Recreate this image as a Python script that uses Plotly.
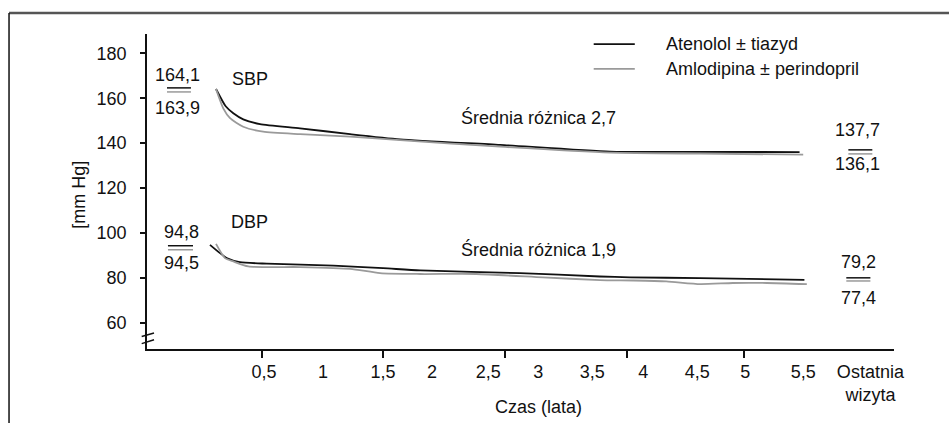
import plotly.graph_objects as go

# ---- data ----
sbp_ate_x = [0.12, 0.20, 0.263, 0.345, 0.483, 0.814, 1.227, 1.64, 2.467, 3.376, 4.12, 4.94]
sbp_ate_y = [164.1, 156.4, 153.3, 150.6, 148.5, 146.6, 144.0, 141.7, 139.2, 136.2, 136.1, 136.0]
sbp_aml_x = [0.12, 0.18, 0.236, 0.345, 0.51, 0.814, 1.227, 1.64, 2.467, 3.376, 4.12, 4.97]
sbp_aml_y = [164.1, 155.5, 151.1, 147.3, 145.1, 144.0, 142.9, 141.3, 138.4, 135.8, 135.3, 134.9]

dbp_ate_x = [0.07, 0.153, 0.208, 0.317, 0.539, 1.09, 1.5, 1.806, 2.63, 3.29, 3.54, 4.12, 4.98]
dbp_ate_y = [94.7, 91.0, 88.8, 87.0, 86.3, 85.4, 84.3, 83.3, 82.1, 80.6, 80.2, 79.9, 79.1]
dbp_aml_x = [0.12, 0.194, 0.263, 0.387, 0.814, 1.227, 1.475, 1.806, 2.27, 2.82, 3.29, 3.57, 3.84, 4.12, 4.39, 4.67, 5.0]
dbp_aml_y = [95.1, 88.8, 87.3, 85.1, 84.8, 84.0, 82.1, 81.7, 81.7, 80.2, 79.0, 78.8, 78.4, 77.2, 77.7, 77.7, 77.2]

series_names = ["Atenolol ± tiazyd", "Amlodipina ± perindopril"]

# x-axis tick marks and label positions (as printed in the original)
tick_marks = [0.5, 1.5, 2.508, 3.517, 4.483]
label_pos = [0.517, 1.004, 1.5, 1.905, 2.368, 2.781, 3.227, 3.649, 4.095, 4.492, 4.971, 5.525]
label_txt = ["0,5", "1", "1,5", "2", "2,5", "3", "3,5", "4", "4,5", "5", "5,5", "Ostatnia<br>wizyta"]
y_ticks = [60, 80, 100, 120, 140, 160, 180]

# baseline / final values shown as fractions
base_sbp = ("164,1", "163,9")
base_dbp = ("94,8", "94,5")
last_sbp = ("137,7", "136,1")
last_dbp = ("79,2", "77,4")

BLACK = "#111111"
GRAY = "#9a9a9a"
FONT = "Liberation Sans, Arial, sans-serif"
FS = 18

fig = go.Figure()
for xs, ys, col in [(sbp_ate_x, sbp_ate_y, BLACK), (sbp_aml_x, sbp_aml_y, GRAY),
                    (dbp_ate_x, dbp_ate_y, BLACK), (dbp_aml_x, dbp_aml_y, GRAY)]:
    fig.add_trace(go.Scatter(x=xs, y=ys, mode="lines", showlegend=False,
                             line=dict(color=col, width=1.8, shape="spline", smoothing=0.6)))

# invisible trace on second x axis so it renders the labels
fig.add_trace(go.Scatter(x=[label_pos[0]], y=[y_ticks[0]], xaxis="x2", mode="markers",
                         marker=dict(opacity=0), showlegend=False, hoverinfo="skip"))

xr = [-0.45, 5.72]
fig.update_layout(
    width=949, height=423,
    margin=dict(l=147, r=55, t=34, b=74, autoexpand=False),
    paper_bgcolor="white", plot_bgcolor="white",
    font=dict(family=FONT, size=FS, color=BLACK),
    xaxis=dict(range=xr, tickvals=tick_marks, ticktext=[""] * len(tick_marks), automargin=False,
               ticks="outside", ticklen=7, tickwidth=1.5, tickcolor=BLACK,
               showline=True, linecolor=BLACK, linewidth=1.5, showgrid=False, zeroline=False),
    xaxis2=dict(range=xr, overlaying="x", side="bottom", tickvals=label_pos, ticktext=label_txt,
                ticks="", showline=False, showgrid=False, zeroline=False, automargin=False,
                tickfont=dict(family=FONT, size=FS, color=BLACK), ticklabelstandoff=10),
    yaxis=dict(range=[48.3, 188.6], tickvals=y_ticks, ticks="outside", ticklen=5, tickwidth=1.5,
               tickcolor=BLACK, showline=True, linecolor=BLACK, linewidth=1.5, automargin=False,
               showgrid=False, zeroline=False, ticklabelstandoff=10),
)

ann = []
def txt(x, y, s, xanchor="center", xref="x", yref="y"):
    ann.append(dict(x=x, y=y, text=s, showarrow=False, xref=xref, yref=yref,
                    xanchor=xanchor, yanchor="middle", font=dict(family=FONT, size=FS, color=BLACK)))

shapes = []
def seg(x0, x1, y, col, xref="x", yref="y", w=1.5):
    shapes.append(dict(type="line", x0=x0, x1=x1, y0=y, y1=y, xref=xref, yref=yref,
                       line=dict(color=col, width=w)))

def fraction(xc, xl, xr_, top_txt, bot_txt, ytop, yl1, yl2, ybot):
    txt(xc, ytop, top_txt)
    txt(xc, ybot, bot_txt)
    seg(xl, xr_, yl1, BLACK)
    seg(xl, xr_, yl2, GRAY)

fraction(-0.194, -0.285, -0.087, base_sbp[0], base_sbp[1], 170.3, 164.6, 162.8, 155.7)
fraction(-0.161, -0.277, -0.070, base_dbp[0], base_dbp[1], 100.5, 94.3, 92.5, 86.7)
fraction(5.417, 5.343, 5.541, last_sbp[0], last_sbp[1], 145.8, 137.0, 135.2, 130.8)
fraction(5.426, 5.326, 5.525, last_dbp[0], last_dbp[1], 87.1, 80.0, 78.6, 71.1)

txt(0.40, 168.6, "SBP")
txt(0.40, 104.9, "DBP")
txt(2.781, 151.6, "Średnia różnica 2,7")
txt(2.781, 92.5, "Średnia różnica 1,9")

# axis titles
txt(2.78, -0.185, "Czas (lata)", yref="paper")
ann.append(dict(x=-0.107, y=0.49, xref="paper", yref="paper", text="[mm Hg]", textangle=-90,
                showarrow=False, font=dict(family=FONT, size=FS, color=BLACK)))

# legend (manual)
seg(0.598, 0.653, 0.968, BLACK, xref="paper", yref="paper", w=1.8)
seg(0.598, 0.653, 0.889, GRAY, xref="paper", yref="paper", w=1.8)
txt(0.692, 0.968, series_names[0], xanchor="left", xref="paper", yref="paper")
txt(0.692, 0.889, series_names[1], xanchor="left", xref="paper", yref="paper")

# axis break marks
for y0, y1 in [(53.9, 55.4), (50.7, 52.4)]:
    shapes.append(dict(type="line", xref="paper", yref="y", x0=-0.0071, x1=0.0094, y0=y0, y1=y1,
                       line=dict(color=BLACK, width=1.5)))

# frame: top and left border
shapes.append(dict(type="line", xref="paper", yref="paper", x0=-0.1847, x1=1.08, y0=1.0666, y1=1.0666,
                   line=dict(color="#555555", width=2.5)))
shapes.append(dict(type="line", xref="paper", yref="paper", x0=-0.1847, x1=-0.1847, y0=1.0666, y1=-0.3,
                   line=dict(color=BLACK, width=1.5)))

fig.update_layout(annotations=ann, shapes=shapes)
fig.write_html("out.html", config={"displayModeBar": False},
               post_script="document.body.style.margin='0';")
